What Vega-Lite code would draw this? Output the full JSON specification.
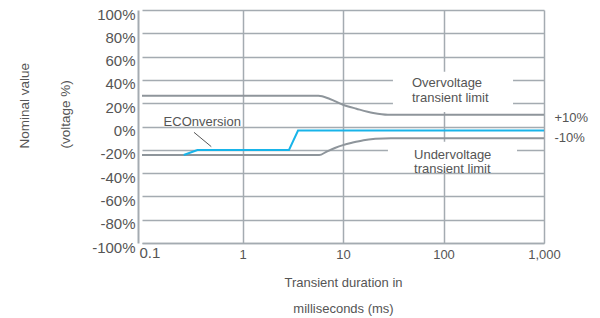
{
  "$schema": "https://vega.github.io/schema/vega-lite/v6.json",
  "width": 402,
  "height": 233,
  "autosize": {"type": "none"},
  "padding": {"left": 142, "top": 10, "right": 56, "bottom": 75},
  "background": "white",
  "config": {
    "view": {"stroke": null},
    "font": "Liberation Sans",
    "text": {"font": "Liberation Sans"}
  },
  "datasets": {
    "limits": [
      {"series": "over", "x": 0.1, "y": 26.4},
      {"series": "over", "x": 5.7, "y": 26.4},
      {"series": "over", "x": 7.4, "y": 23.6},
      {"series": "over", "x": 10, "y": 18.7},
      {"series": "over", "x": 13.6, "y": 15.3},
      {"series": "over", "x": 20, "y": 11.6},
      {"series": "over", "x": 28, "y": 10.1},
      {"series": "over", "x": 1000, "y": 10},
      {"series": "under", "x": 0.1, "y": -24.5},
      {"series": "under", "x": 5.8, "y": -24.5},
      {"series": "under", "x": 6.9, "y": -21.5},
      {"series": "under", "x": 8.3, "y": -18.5},
      {"series": "under", "x": 10, "y": -16},
      {"series": "under", "x": 12.5, "y": -13.8},
      {"series": "under", "x": 16, "y": -11.8},
      {"series": "under", "x": 21, "y": -10.6},
      {"series": "under", "x": 30, "y": -10},
      {"series": "under", "x": 1000, "y": -10}
    ],
    "eco": [
      {"series": "eco", "x": 0.26, "y": -24.5},
      {"series": "eco", "x": 0.356, "y": -20.2},
      {"series": "eco", "x": 2.9, "y": -20.2},
      {"series": "eco", "x": 3.57, "y": -3.5},
      {"series": "eco", "x": 1000, "y": -3.5}
    ],
    "boxes": [
      {"x": 31.4, "x2": 492, "y": 47, "y2": 12.5},
      {"x": 28, "x2": 539, "y": -13, "y2": -38}
    ],
    "leader": [
      {"x": 0.329, "y": -5.0, "x2": 0.489, "y2": -17.3}
    ],
    "labels": [
      {"text": "ECOnversion", "x": 0.164, "y": 3.9},
      {"text": "Overvoltage", "x": 48.6, "y": 37.3},
      {"text": "transient limit", "x": 48.6, "y": 24.5},
      {"text": "Undervoltage", "x": 50.9, "y": -24.5},
      {"text": "transient limit", "x": 50.9, "y": -36.7},
      {"text": "+10%", "x": 1270, "y": 7.0},
      {"text": "-10%", "x": 1270, "y": -10.1}
    ]
  },
  "layer": [
    {
      "data": {"name": "boxes"},
      "mark": {"type": "rect", "fill": "white", "stroke": null},
      "encoding": {
        "x": {
          "field": "x", "type": "quantitative",
          "scale": {"type": "log", "domain": [0.1, 1000]},
          "axis": {
            "values": [0.1, 1, 10, 100, 1000],
            "tickCount": 5,
            "labelExpr": "format(datum.value, ',')",
            "ticks": false,
            "domain": true,
            "domainColor": "#a4abb1",
            "domainWidth": 1.5,
            "grid": true,
            "gridColor": {"condition": {"test": "datum.value < 0.5", "value": "transparent"}, "value": "#a4abb1"},
            "gridWidth": 1.5,
            "labelColor": "#555555",
            "labelFont": "Liberation Sans",
            "labelFontSize": {"condition": {"test": "datum.value < 0.5", "value": 15}, "value": 13},
            "labelAlign": {"condition": {"test": "datum.value < 0.5", "value": "left"}, "value": "center"},
            "labelPadding": {"condition": {"test": "datum.value < 0.5", "value": 2}, "value": 5},
            "labelOffset": {"condition": {"test": "datum.value < 0.5", "value": -3}, "value": 0},
            "labelFlush": false,
            "labelOverlap": false,
            "title": ["Transient duration in", "milliseconds (ms)"],
            "titleFont": "Liberation Sans",
            "titleFontSize": 13,
            "titleFontWeight": "normal",
            "titleColor": "#555555",
            "titleLineHeight": 26,
            "titleBaseline": "alphabetic",
            "titleY": 43
          }
        },
        "x2": {"field": "x2"},
        "y": {
          "field": "y", "type": "quantitative",
          "scale": {"domain": [-100, 100], "nice": false, "zero": false},
          "axis": {
            "values": [-100, -80, -60, -40, -20, 0, 20, 40, 60, 80, 100],
            "tickCount": 11,
            "labelExpr": "datum.value + '%'",
            "ticks": false,
            "offset": 4,
            "domain": true,
            "domainColor": "#a4abb1",
            "domainWidth": 2,
            "grid": true,
            "gridColor": "#a4abb1",
            "gridWidth": 1.5,
            "labelColor": "#555555",
            "labelFont": "Liberation Sans",
            "labelFontSize": 15,
            "labelPadding": 3,
            "labelOffset": 4,
            "labelOverlap": false,
            "title": ["Nominal value", "(voltage %)"],
            "titleFont": "Liberation Sans",
            "titleFontSize": 13.5,
            "titleFontWeight": "normal",
            "titleColor": "#555555",
            "titleLineHeight": 41,
            "titleAngle": -90,
            "titleAlign": "left",
            "titleBaseline": "alphabetic",
            "titleX": -110,
            "titleY": 138
          }
        },
        "y2": {"field": "y2"}
      }
    },
    {
      "data": {"name": "limits"},
      "mark": {"type": "line", "interpolate": "monotone", "strokeWidth": 2, "color": "#8e959b"},
      "encoding": {
        "x": {"field": "x", "type": "quantitative", "scale": {"type": "log", "domain": [0.1, 1000]}},
        "y": {"field": "y", "type": "quantitative", "scale": {"domain": [-100, 100], "nice": false, "zero": false}},
        "detail": {"field": "series", "type": "nominal"}
      }
    },
    {
      "data": {"name": "eco"},
      "mark": {"type": "line", "strokeWidth": 2, "color": "#18b4e9"},
      "encoding": {
        "x": {"field": "x", "type": "quantitative", "scale": {"type": "log", "domain": [0.1, 1000]}},
        "y": {"field": "y", "type": "quantitative", "scale": {"domain": [-100, 100], "nice": false, "zero": false}}
      }
    },
    {
      "data": {"name": "leader"},
      "mark": {"type": "rule", "color": "#555555", "strokeWidth": 1},
      "encoding": {
        "x": {"field": "x", "type": "quantitative", "scale": {"type": "log", "domain": [0.1, 1000]}},
        "y": {"field": "y", "type": "quantitative", "scale": {"domain": [-100, 100], "nice": false, "zero": false}},
        "x2": {"field": "x2"},
        "y2": {"field": "y2"}
      }
    },
    {
      "data": {"name": "labels"},
      "mark": {"type": "text", "align": "left", "baseline": "middle", "fontSize": 13, "color": "#555555", "font": "Liberation Sans"},
      "encoding": {
        "x": {"field": "x", "type": "quantitative", "scale": {"type": "log", "domain": [0.1, 1000]}},
        "y": {"field": "y", "type": "quantitative", "scale": {"domain": [-100, 100], "nice": false, "zero": false}},
        "text": {"field": "text", "type": "nominal"}
      }
    }
  ]
}
